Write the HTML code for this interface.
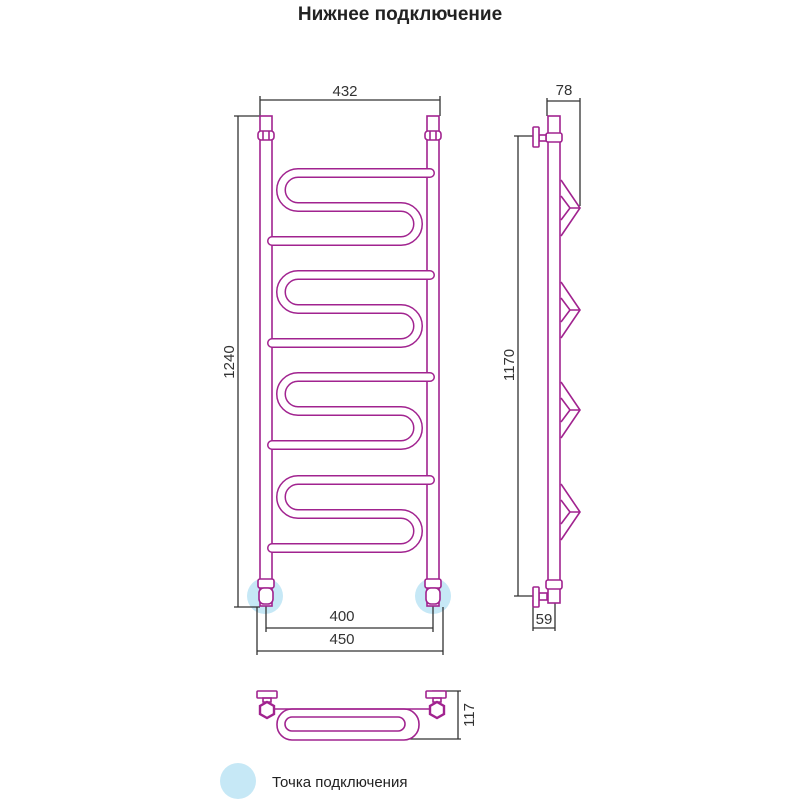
<!DOCTYPE html>
<html><head><meta charset="utf-8"><style>
html,body{margin:0;padding:0;background:#fff;}
svg{display:block;}
text{font-family:"Liberation Sans",sans-serif;}
</style></head><body>
<svg width="800" height="800" viewBox="0 0 800 800" xmlns="http://www.w3.org/2000/svg">
<text x="400" y="20" text-anchor="middle" font-size="19" font-weight="bold" fill="#222">Нижнее подключение</text>

<circle cx="265" cy="596" r="18" fill="#c6e8f6"/>
<circle cx="433" cy="596" r="18" fill="#c6e8f6"/>
<circle cx="238" cy="781" r="18" fill="#c6e8f6"/>
<text x="272" y="787" font-size="15" fill="#222">Точка подключения</text>

<g stroke="#333" stroke-width="1.3" fill="none">
  <line x1="260" y1="100" x2="440" y2="100"/><line x1="260" y1="96" x2="260" y2="116"/><line x1="440" y1="96" x2="440" y2="116"/>
  <line x1="238" y1="116" x2="238" y2="607"/><line x1="234" y1="116" x2="260" y2="116"/><line x1="234" y1="607" x2="260" y2="607"/>
  <line x1="266" y1="628" x2="433" y2="628"/><line x1="266" y1="605" x2="266" y2="632"/><line x1="433" y1="605" x2="433" y2="632"/>
  <line x1="257" y1="651" x2="443" y2="651"/><line x1="257" y1="607" x2="257" y2="655"/><line x1="443" y1="607" x2="443" y2="655"/>
  <line x1="547" y1="101" x2="580" y2="101"/><line x1="547" y1="98" x2="547" y2="116"/><line x1="580" y1="98" x2="580" y2="206"/>
  <line x1="518" y1="136" x2="518" y2="596"/><line x1="514" y1="136" x2="534" y2="136"/><line x1="514" y1="596" x2="534" y2="596"/>
  <line x1="533" y1="628" x2="555" y2="628"/><line x1="533" y1="600" x2="533" y2="631"/><line x1="555" y1="603" x2="555" y2="631"/>
  <line x1="458" y1="691" x2="458" y2="739"/><line x1="432" y1="691" x2="461" y2="691"/><line x1="410" y1="739" x2="461" y2="739"/>
</g>
<g font-size="15" fill="#333">
  <text x="345" y="96" text-anchor="middle">432</text>
  <text x="342" y="621" text-anchor="middle">400</text>
  <text x="342" y="644" text-anchor="middle">450</text>
  <text x="564" y="95" text-anchor="middle">78</text>
  <text x="544" y="624" text-anchor="middle">59</text>
  <text transform="translate(234,362) rotate(-90)" text-anchor="middle">1240</text>
  <text transform="translate(514,365) rotate(-90)" text-anchor="middle">1170</text>
  <text transform="translate(474,715) rotate(-90)" text-anchor="middle">117</text>
</g>

<g fill="none" stroke="#a1238f" stroke-width="1.6">
  <rect x="260" y="116" width="12" height="490" fill="#fff"/>
  <rect x="427" y="116" width="12" height="490" fill="#fff"/>
  <rect x="258" y="131" width="16" height="9" rx="3" fill="#fff"/>
  <rect x="425" y="131" width="16" height="9" rx="3" fill="#fff"/>
  <line x1="263" y1="131" x2="263" y2="140"/><line x1="269" y1="131" x2="269" y2="140"/>
  <line x1="430" y1="131" x2="430" y2="140"/><line x1="436" y1="131" x2="436" y2="140"/>
  <rect x="258" y="579" width="16" height="9" rx="2" fill="#fff"/>
  <rect x="425" y="579" width="16" height="9" rx="2" fill="#fff"/>
  <rect x="259" y="588" width="14" height="16" rx="5" fill="#fff"/>
  <rect x="426" y="588" width="14" height="16" rx="5" fill="#fff"/>
</g>

<defs>
<path id="s" d="M430,173 H298 A17,17 0 0 0 298,207 H401 A17,17 0 0 1 401,241 H272"/>
</defs>
<g fill="none" stroke-linecap="round">
  <g stroke="#a1238f" stroke-width="10">
    <use href="#s"/><use href="#s" y="102"/><use href="#s" y="204"/><use href="#s" y="307"/>
  </g>
  <g stroke="#fff" stroke-width="7">
    <use href="#s"/><use href="#s" y="102"/><use href="#s" y="204"/><use href="#s" y="307"/>
  </g>
</g>

<g fill="#fff" stroke="#a1238f" stroke-width="1.6">
  <path d="M561,180 L580,208 L561,236 M561,196 L570,208 L561,220 M570,208 L580,208" fill="none"/>
  <path d="M561,282 L580,310 L561,338 M561,298 L570,310 L561,322 M570,310 L580,310" fill="none"/>
  <path d="M561,382 L580,410 L561,438 M561,398 L570,410 L561,422 M570,410 L580,410" fill="none"/>
  <path d="M561,484 L580,512 L561,540 M561,500 L570,512 L561,524 M570,512 L580,512" fill="none"/>
  <rect x="548" y="116" width="12" height="487"/>
  <rect x="546" y="133" width="16" height="9" rx="2"/>
  <rect x="539" y="135" width="7" height="6"/>
  <rect x="533" y="127" width="6" height="20" rx="1"/>
  <rect x="546" y="580" width="16" height="9" rx="2"/>
  <rect x="539" y="593" width="8" height="7"/>
  <rect x="533" y="587" width="6" height="20" rx="1"/>
</g>

<g fill="none" stroke="#a1238f" stroke-width="1.6">
  <path d="M272,709 H430"/>
  <rect x="277" y="709" width="142" height="31" rx="15"/>
  <rect x="285" y="717" width="120" height="14" rx="7"/>
  <rect x="257" y="691" width="20" height="7" rx="1" fill="#fff"/>
  <rect x="426" y="691" width="20" height="7" rx="1" fill="#fff"/>
  <path d="M263,698 h8 v4 h-8 z M433,698 h8 v4 h-8 z"/>
  <path d="M267,702 l7,4 v8 l-7,4 l-7,-4 v-8 z" fill="#fff" stroke-width="2.4"/>
  <path d="M437,702 l7,4 v8 l-7,4 l-7,-4 v-8 z" fill="#fff" stroke-width="2.4"/>
</g>
</svg>
</body></html>
